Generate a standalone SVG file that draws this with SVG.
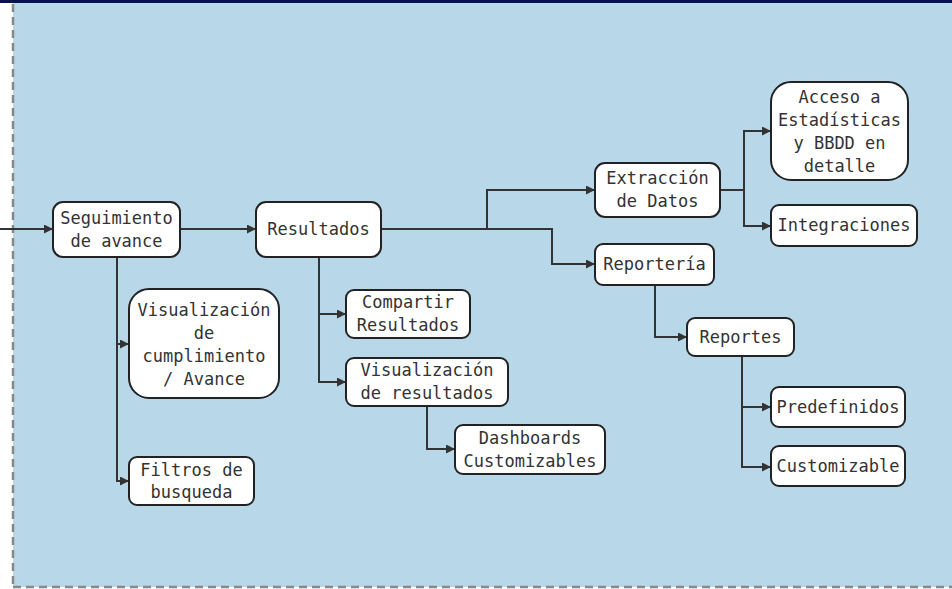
<svg xmlns="http://www.w3.org/2000/svg" width="952" height="589" viewBox="0 0 952 589">
  <defs>
    <marker id="arrow" viewBox="0 0 10 10" refX="10" refY="5" markerWidth="9" markerHeight="9" markerUnits="userSpaceOnUse" orient="auto">
      <path d="M0,0 L10,5 L0,10 z" fill="#333333"/>
    </marker>
    <style>
      .node rect { fill: #ffffff; stroke: #222222; stroke-width: 2; }
      .node text { font-family: "DejaVu Sans Mono", "Liberation Mono", monospace; font-size: 17px; fill: #333333; text-anchor: middle; }
      .edges path { fill: none; stroke: #333333; stroke-width: 2; marker-end: url(#arrow); }
    </style>
  </defs>

  <!-- canvas and frame -->
  <rect x="0" y="0" width="952" height="589" fill="#ffffff"/>
  <rect x="13" y="0" width="939" height="587" fill="#b8d8ea"/>
  <rect x="0" y="0" width="952" height="3" fill="#0b1150"/>
  <line x1="13" y1="4" x2="13" y2="587" stroke="#888888" stroke-width="2.5" stroke-dasharray="8 5"/>
  <line x1="13" y1="587" x2="952" y2="587" stroke="#888888" stroke-width="2.5" stroke-dasharray="8 5"/>

  <!-- connectors -->
  <g id="edges" class="edges">
    <path d="M0 229 H53"/>
    <path d="M180 229 H256"/>
    <path d="M117 257 V481 H129"/>
    <path d="M117 344 H129"/>
    <path d="M319 257 V382 H346"/>
    <path d="M319 314 H346"/>
    <path d="M427 406 V449 H455"/>
    <path d="M381 229 H552 V264 H595"/>
    <path d="M487 229 V190 H595"/>
    <path d="M720 190 H744 V131 H771"/>
    <path d="M744 190 V226 H771"/>
    <path d="M655 285 V337 H687"/>
    <path d="M742 356 V467 H771"/>
    <path d="M742 407 H771"/>
  </g>

  <!-- nodes -->
  <g id="seguimiento" class="node">
    <rect x="53" y="202" width="127" height="55" rx="10"/>
    <text x="116.5" y="224">Seguimiento</text>
    <text x="116.5" y="247">de avance</text>
  </g>
  <g id="resultados" class="node">
    <rect x="256" y="202" width="125" height="55" rx="10"/>
    <text x="318.5" y="235">Resultados</text>
  </g>
  <g id="vis-cumplimiento" class="node">
    <rect x="129" y="289" width="150" height="109" rx="20"/>
    <text x="204" y="316">Visualización</text>
    <text x="204" y="339">de</text>
    <text x="204" y="362">cumplimiento</text>
    <text x="204" y="385">/ Avance</text>
  </g>
  <g id="filtros" class="node">
    <rect x="129" y="457" width="125" height="48" rx="8"/>
    <text x="191.5" y="476">Filtros de</text>
    <text x="191.5" y="498">busqueda</text>
  </g>
  <g id="compartir" class="node">
    <rect x="346" y="290" width="124" height="48" rx="8"/>
    <text x="408" y="308">Compartir</text>
    <text x="408" y="331">Resultados</text>
  </g>
  <g id="vis-resultados" class="node">
    <rect x="346" y="358" width="162" height="48" rx="8"/>
    <text x="427" y="376">Visualización</text>
    <text x="427" y="399">de resultados</text>
  </g>
  <g id="dashboards" class="node">
    <rect x="455" y="425" width="150" height="49" rx="8"/>
    <text x="530" y="444">Dashboards</text>
    <text x="530" y="467">Customizables</text>
  </g>
  <g id="extraccion" class="node">
    <rect x="595" y="163" width="125" height="54" rx="10"/>
    <text x="657.5" y="184">Extracción</text>
    <text x="657.5" y="207">de Datos</text>
  </g>
  <g id="acceso" class="node">
    <rect x="771" y="82" width="137" height="98" rx="20"/>
    <text x="839.5" y="103">Acceso a</text>
    <text x="839.5" y="126">Estadísticas</text>
    <text x="839.5" y="149">y BBDD en</text>
    <text x="839.5" y="172">detalle</text>
  </g>
  <g id="integraciones" class="node">
    <rect x="771" y="205" width="146" height="41" rx="8"/>
    <text x="844" y="231">Integraciones</text>
  </g>
  <g id="reporteria" class="node">
    <rect x="595" y="244" width="119" height="41" rx="8"/>
    <text x="654.5" y="270">Reportería</text>
  </g>
  <g id="reportes" class="node">
    <rect x="687" y="318" width="107" height="38" rx="8"/>
    <text x="740.5" y="343">Reportes</text>
  </g>
  <g id="predefinidos" class="node">
    <rect x="771" y="387" width="134" height="40" rx="8"/>
    <text x="838" y="413">Predefinidos</text>
  </g>
  <g id="customizable" class="node">
    <rect x="771" y="446" width="134" height="40" rx="8"/>
    <text x="838" y="472">Customizable</text>
  </g>
</svg>
